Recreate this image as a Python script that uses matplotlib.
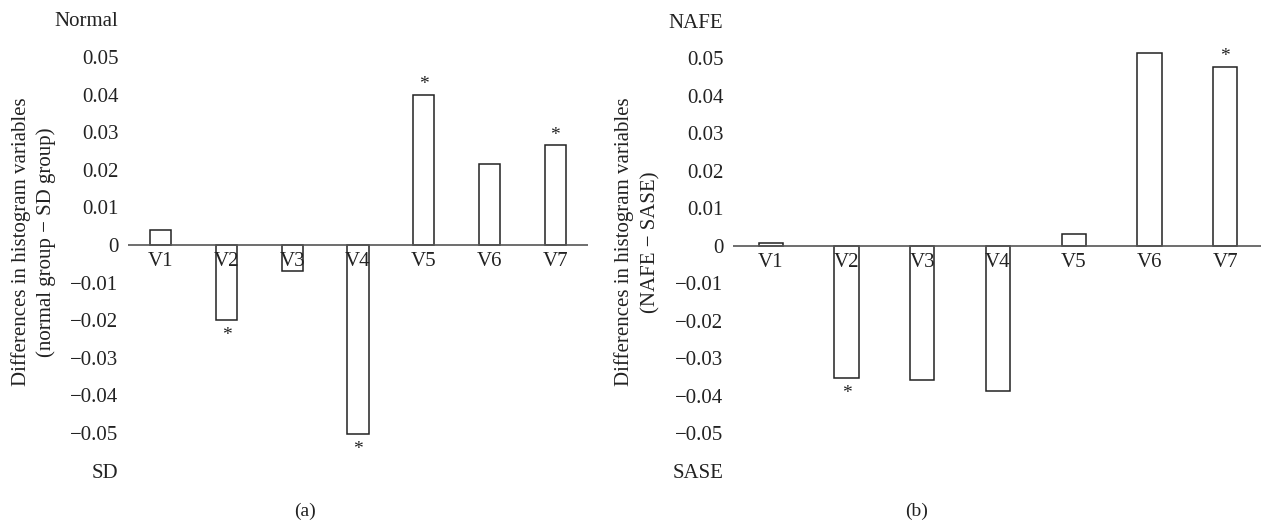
import numpy as np
import matplotlib
matplotlib.use("Agg")
from matplotlib import pyplot as plt

plt.rcParams['font.family'] = ['Liberation Serif', 'DejaVu Serif']

# data
categories = ['V1', 'V2', 'V3', 'V4', 'V5', 'V6', 'V7']
diff_a = [0.004, -0.020, -0.007, -0.0502, 0.040, 0.0215, 0.0266]
diff_b = [0.0008, -0.0352, -0.0358, -0.0388, 0.0032, 0.0515, 0.0478]
stars_a = [False, True, False, True, True, False, True]
stars_b = [False, True, False, False, False, False, True]
yticks = [-0.06, -0.05, -0.04, -0.03, -0.02, -0.01, 0, 0.01, 0.02, 0.03, 0.04, 0.05, 0.06]
ylabels_a = ['SD', '−0.05', '−0.04', '−0.03', '−0.02', '−0.01', '0',
             '0.01', '0.02', '0.03', '0.04', '0.05', 'Normal']
ylabels_b = ['SASE', '−0.05', '−0.04', '−0.03', '−0.02', '−0.01', '0',
             '0.01', '0.02', '0.03', '0.04', '0.05', 'NAFE']

W, H = 1261, 529
fig = plt.figure(figsize=(W / 100, H / 100), dpi=100)

def px_axes(x0, x1, y0, y1):
    return fig.add_axes([x0 / W, 1 - y1 / H, (x1 - x0) / W, (y1 - y0) / H])

ax_a = px_axes(128, 588, 19.5, 470.5)
ax_b = px_axes(733, 1263, 21, 470.5)

FS = 15


def draw_panel(ax, vals, stars, ylabels, line1, line2, label_x1, label_x2):
    x = np.arange(len(categories))
    ax.bar(x, vals, width=0.32, color='white', edgecolor='#222222',
           linewidth=1.1, zorder=2)
    ax.axhline(0, color='#555555', linewidth=1.2, zorder=3)
    ax.set_xlim(-0.5, 6.5)
    ax.set_ylim(-0.06, 0.06)
    ax.set_yticks(yticks)
    ax.set_yticklabels(ylabels, fontsize=FS, color='#222222')
    ax.tick_params(axis='y', length=0, pad=7)
    ax.set_xticks([])
    for s in ax.spines.values():
        s.set_visible(False)
    for i, c in enumerate(categories):
        ax.annotate(c, (i, 0), xytext=(0, -5), textcoords='offset points',
                    ha='center', va='top', fontsize=FS, color='#222222', zorder=4)
    for i, v in enumerate(vals):
        if stars[i]:
            off = 1 if v > 0 else -5
            ax.annotate('*', (i, v), xytext=(0, off), textcoords='offset points',
                        ha='center', va='bottom' if v > 0 else 'top',
                        fontsize=14, color='#222222')
    fig.text(label_x1 / W, 1 - 242 / H, line1, rotation=90, ha='center',
             va='center', fontsize=FS, color='#222222')
    fig.text(label_x2 / W, 1 - 242 / H, line2, rotation=90, ha='center',
             va='center', fontsize=FS, color='#222222')


draw_panel(ax_a, diff_a, stars_a, ylabels_a,
           'Differences in histogram variables', '(normal group − SD group)', 21, 46)
draw_panel(ax_b, diff_b, stars_b, ylabels_b,
           'Differences in histogram variables', '(NAFE − SASE)', 624, 651)

fig.text(305 / W, 1 - 511 / H, '(a)', ha='center', va='center', fontsize=14, color='#222222')
fig.text(917 / W, 1 - 511 / H, '(b)', ha='center', va='center', fontsize=14, color='#222222')

fig.savefig('out.png', dpi=100)
